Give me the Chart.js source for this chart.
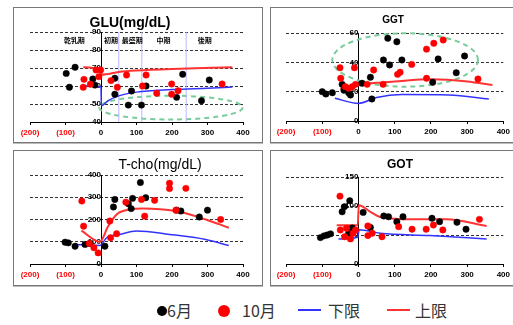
<!DOCTYPE html>
<html>
<head>
<meta charset="utf-8">
<script src="https://cdn.jsdelivr.net/npm/chart.js@4/dist/chart.umd.min.js"></script>
<style>
  body { margin: 0; background: #fff; }
  #wrap { position: relative; width: 513px; height: 325px; overflow: hidden; font-family: 'Noto Sans CJK JP', sans-serif; }
  .panel { position: absolute; box-sizing: border-box; border: 1px solid #777; box-shadow: 0 1px 0 #bbb; }
  canvas { position: absolute; }
  .lg { position: absolute; top: 300px; line-height: 20px; font-size: 16px; color: #333; }
  .dot { position: absolute; border-radius: 50%; }
  .bar { position: absolute; height: 2px; }
</style>
</head>
<body>
<div id="wrap">
  <div class="panel" style="left:13px;top:7px;width:250px;height:136px"></div>
  <div class="panel" style="left:270px;top:7px;width:260px;height:136px"></div>
  <div class="panel" style="left:13px;top:150px;width:250px;height:136px"></div>
  <div class="panel" style="left:270px;top:150px;width:260px;height:136px"></div>
  <canvas id="glu" width="250" height="136" style="left:13px;top:7px"></canvas>
  <canvas id="ggt" width="243" height="136" style="left:270px;top:7px"></canvas>
  <canvas id="tcho" width="250" height="135" style="left:13px;top:150px"></canvas>
  <canvas id="got" width="243" height="135" style="left:270px;top:150px"></canvas>

  <div class="dot" style="left:157px;top:306px;width:10px;height:10px;background:#000"></div>
  <div class="lg" style="left:167px">6月</div>
  <div class="dot" style="left:218px;top:305px;width:12px;height:12px;background:#f00"></div>
  <div class="lg" style="left:242px">10月</div>
  <div class="bar" style="left:298px;top:309px;width:23px;background:#3333ff"></div>
  <div class="lg" style="left:328px">下限</div>
  <div class="bar" style="left:387px;top:309px;width:23px;background:#ff3333"></div>
  <div class="lg" style="left:415px">上限</div>
</div>
<script>
// 日数（分娩 = 0）
const xTicks = [-200, -100, 0, 100, 200, 300, 400];

// GLU
const gluBlackX = [-98, -73, -89, -23, -17, 39, 39, 86, 77, 114, 127, 230, 213, 283, 305];
const gluBlackY = [67, 70.4, 59.3, 63.9, 60.5, 64.3, 55.4, 57.2, 49.4, 49.4, 60, 66.5, 53.7, 51.8, 63.3];
const gluRedX = [-48, -50, -30, -14, -1, -6, 28, 46, 72, 127, 117, 157, 199, 199, 217, 341];
const gluRedY = [63.7, 59.3, 61, 68.9, 68.9, 65.2, 63, 59.3, 66.1, 66.1, 60, 56, 61.1, 55.4, 57.4, 61.1];
const gluUpperX = [-50, 0, 1, 50, 100, 200, 370];
const gluUpperY = [70.4, 68.6, 66.3, 67.8, 68.6, 69.5, 70.4];
const gluLowerX = [-50, 0, 1, 20, 50, 100, 200, 300, 370];
const gluLowerY = [60, 59.6, 49, 51.8, 54.5, 56.6, 58, 58.8, 59.4];
const gluStageX = [50, 115, 240];
const gluStageNames = ['乾乳期', '初期', '最盛期', '中期', '後期'];
const gluStageNameX = [-75, 28, 88, 176, 292];
const gluEllipse = [197, 48, 202, 6.6]; // cx, cy, rx, ry

// GGT
const ggtBlackX = [-100, -90, -72, -45, -40, -27, -22, 10, 33, 37, 69, 81, 86, 106, 120, 205, 220, 270, 293];
const ggtBlackY = [20, 18.4, 19.3, 25, 21, 19.3, 17.7, 25.7, 29.8, 15, 41.6, 56.4, 38.2, 54, 41.6, 26.4, 42.3, 32.9, 44.3];
const ggtRedX = [-51, -49, -36, -27, -17, -11, -8, 24, 42, 68, 108, 115, 147, 188, 188, 208, 234, 330];
const ggtRedY = [36.3, 29.1, 23.4, 22.3, 23.4, 36.3, 25, 25, 34.8, 25, 31.8, 33.2, 38.6, 49, 29.1, 53, 55.2, 28.6];
const ggtUpperX = [-50, 0, 50, 100, 200, 300, 370];
const ggtUpperY = [22, 24.5, 26, 27, 28.5, 27, 24.5];
const ggtLowerX = [-65, 0, 50, 120, 250, 360];
const ggtLowerY = [15.5, 12, 16, 18, 17.8, 15];
const ggtEllipse = [129, 41.6, 201, 18.2];

// T-cho
const tchoBlackX = [-101, -92, -73, -45, -31, 11, 35, 39, 77, 85, 89, 111, 126, 213, 225, 277, 300];
const tchoBlackY = [98, 95, 80, 88, 92, 80, 256, 290, 271, 249, 295, 366, 298, 242, 238, 211, 242];
const tchoRedX = [-54, -49, -33, -20, -8, 25, 27, 44, 70, 114, 123, 151, 193, 193, 211, 239, 337];
const tchoRedY = [283, 170, 92, 73, 50, 193, 118, 136, 278, 290, 215, 286, 363, 339, 242, 340, 200];
const tchoUpperX = [-55, -3, 20, 44, 81, 118, 211, 295, 360];
const tchoUpperY = [150, 100, 170, 223, 245, 250, 238, 200, 163];
const tchoLowerX = [-70, -3, 16, 53, 100, 193, 295, 360];
const tchoLowerY = [88, 83, 118, 133, 148, 133, 110, 83];

// GOT
const gotBlackX = [-105, -95, -86, -77, -45, -39, -24, -17, -27, 13, 33, 70, 83, 106, 123, 203, 224, 272, 297];
const gotBlackY = [45.5, 48.5, 50, 52, 90, 98.6, 109, 62, 53, 89, 63, 82.7, 81.5, 73, 81.5, 78.8, 73, 72, 60];
const gotRedX = [-51, -50, -33, -22, -15, -8, -38, 26, 26, 38, 65, 111, 148, 187, 207, 233, 334];
const gotRedY = [117, 58.7, 61.6, 43.3, 53, 58.7, 47, 65.6, 49, 53, 47, 64.4, 60, 60, 67.3, 58.7, 77];
const gotUpperX = [-60, -2, 1, 33, 60, 152, 243, 354];
const gotUpperY = [67, 67, 101.5, 90, 81, 77, 77, 65.6];
const gotLowerX = [-55, -2, 2, 60, 197, 354];
const gotLowerY = [43, 46, 59, 53, 49, 43];

const pts = (xs, ys) => xs.map((x, i) => ({ x, y: ys[i] }));

// タイトル・楕円・ステージ名
const panelDecor = {
  id: 'panelDecor',
  beforeDatasetsDraw(chart, args, o) {
    const { ctx, scales: { x, y } } = chart;
    if (o.ellipse) {
      const [cx, cy, rx, ry] = o.ellipse;
      const px = x.getPixelForValue(cx), py = y.getPixelForValue(cy);
      const prx = Math.abs(x.getPixelForValue(cx + rx) - px);
      const pry = Math.abs(y.getPixelForValue(cy + ry) - py);
      ctx.save();
      ctx.strokeStyle = '#77cc99';
      ctx.lineWidth = 2;
      ctx.setLineDash([5, 4]);
      ctx.beginPath();
      ctx.ellipse(px, py, prx, pry, 0, 0, Math.PI * 2);
      ctx.stroke();
      ctx.restore();
    }
  },
  afterDraw(chart, args, o) {
    const { ctx, scales: { x, y } } = chart;
    ctx.save();
    ctx.fillStyle = '#000';
    ctx.textAlign = 'center';
    ctx.textBaseline = 'middle';
    ctx.font = o.font;
    ctx.fillText(o.title, o.tx, o.ty);
    if (o.stages) {
      ctx.font = 'bold 7px "Noto Sans CJK JP"';
      o.stages.forEach((s, i) => {
        ctx.fillText(s, x.getPixelForValue(o.stageX[i]), y.getPixelForValue(o.stageY));
      });
    }
    ctx.restore();
  }
};

function makePanel(id, cfg) {
  const datasets = [
    { data: pts(cfg.bx, cfg.by), showLine: false, pointRadius: 3.2, pointBorderWidth: 0.5, backgroundColor: '#000', borderColor: '#000', order: 1 },
    { data: pts(cfg.rx, cfg.ry), showLine: false, pointRadius: 3.2, pointBorderWidth: 0.5, backgroundColor: '#f00', borderColor: '#f00', order: 0 },
    { data: pts(cfg.lx, cfg.ly), showLine: true, pointRadius: 0, borderColor: '#3333ff', borderWidth: 1.5, cubicInterpolationMode: 'monotone', order: 3 },
    { data: pts(cfg.ux, cfg.uy), showLine: true, pointRadius: 0, borderColor: '#ff3333', borderWidth: 2, cubicInterpolationMode: 'monotone', order: 2 }
  ];
  if (cfg.vlines) {
    const d = [];
    cfg.vlines.forEach(v => { d.push({ x: v, y: cfg.ymin }, { x: v, y: cfg.ymax }, { x: v, y: null }); });
    datasets.push({ data: d, showLine: true, spanGaps: false, pointRadius: 0, borderColor: '#b8b8ff', borderWidth: 1, order: 4 });
  }
  return new Chart(document.getElementById(id), {
    type: 'scatter',
    data: { datasets },
    options: {
      responsive: false,
      animation: false,
      devicePixelRatio: 1,
      layout: { padding: cfg.pad },
      plugins: {
        legend: { display: false },
        tooltip: { enabled: false },
        panelDecor: cfg.decor
      },
      scales: {
        x: {
          type: 'linear', min: -200, max: 400,
          afterBuildTicks: s => { s.ticks = xTicks.map(v => ({ value: v })); },
          afterFit: s => { s.height = cfg.xh; },
          grid: { drawOnChartArea: false, tickLength: 3, color: '#000' },
          border: { color: '#000', width: 1 },
          ticks: {
            autoSkip: false, maxRotation: 0, padding: 3,
            font: { family: 'Liberation Sans', size: 8, weight: 'bold' },
            color: c => c.tick.value < 0 ? '#f00' : '#000',
            callback: v => v < 0 ? '(' + (-v) + ')' : v
          }
        },
        y: {
          type: 'linear', min: cfg.ymin, max: cfg.ymax,
          position: { x: 0 },
          grid: { drawTicks: false, color: c => c.tick.value === cfg.ymin ? 'rgba(0,0,0,0)' : '#333', lineWidth: 1 },
          border: { color: '#000', width: 1, dash: [3, 2] },
          ticks: {
            stepSize: cfg.step,
            font: { family: 'Liberation Sans', size: 8, weight: 'bold' },
            color: '#000'
          }
        }
      }
    },
    plugins: [panelDecor]
  });
}

makePanel('glu', {
  bx: gluBlackX, by: gluBlackY, rx: gluRedX, ry: gluRedY,
  ux: gluUpperX, uy: gluUpperY, lx: gluLowerX, ly: gluLowerY,
  ymin: 40, ymax: 90, step: 10, vlines: gluStageX,
  pad: { left: 17, right: 20, top: 25, bottom: 0 }, xh: 21,
  decor: { title: 'GLU(mg/dL)', font: 'bold 14px "Liberation Sans"', tx: 117, ty: 16,
           ellipse: gluEllipse, stages: gluStageNames, stageX: gluStageNameX, stageY: 85.6 }
});

makePanel('ggt', {
  bx: ggtBlackX, by: ggtBlackY, rx: ggtRedX, ry: ggtRedY,
  ux: ggtUpperX, uy: ggtUpperY, lx: ggtLowerX, ly: ggtLowerY,
  ymin: 0, ymax: 60, step: 20,
  pad: { left: 16, right: 9, top: 26, bottom: 0 }, xh: 22,
  decor: { title: 'GGT', font: 'bold 10px "Liberation Sans"', tx: 123, ty: 13, ellipse: ggtEllipse }
});

makePanel('tcho', {
  bx: tchoBlackX, by: tchoBlackY, rx: tchoRedX, ry: tchoRedY,
  ux: tchoUpperX, uy: tchoUpperY, lx: tchoLowerX, ly: tchoLowerY,
  ymin: 0, ymax: 400, step: 100,
  pad: { left: 17, right: 20, top: 25, bottom: 0 }, xh: 21,
  decor: { title: 'T-cho(mg/dL)', font: '14px "Liberation Sans"', tx: 147, ty: 15 }
});

makePanel('got', {
  bx: gotBlackX, by: gotBlackY, rx: gotRedX, ry: gotRedY,
  ux: gotUpperX, uy: gotUpperY, lx: gotLowerX, ly: gotLowerY,
  ymin: 0, ymax: 150, step: 50,
  pad: { left: 16, right: 9, top: 27, bottom: 0 }, xh: 21,
  decor: { title: 'GOT', font: 'bold 12px "Liberation Sans Narrow", "Liberation Sans"', tx: 130, ty: 15 }
});
</script>
</body>
</html>
